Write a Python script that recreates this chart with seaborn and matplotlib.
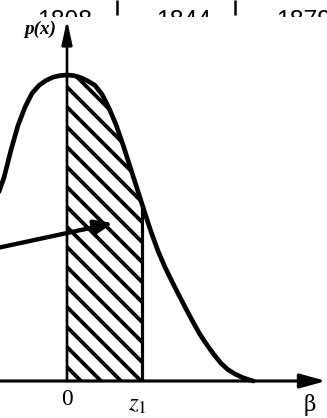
import numpy as np
import matplotlib
matplotlib.use("Agg")
import matplotlib.pyplot as plt
from matplotlib.patches import Rectangle
import seaborn as sns

# ---- data (x in sigma-like units, y relative to peak) ----
curve_x = [-1.30, -1.20, -1.10, -1.00, -0.90, -0.80, -0.70, -0.60, -0.50, -0.40,
           -0.30, -0.20, -0.10, 0.00, 0.10, 0.20, 0.30, 0.40, 0.50, 0.60,
           0.70, 0.80, 0.90, 1.00, 1.10, 1.20, 1.30, 1.40, 1.50, 1.60,
           1.70, 1.80, 1.90, 2.00, 2.10, 2.20, 2.30, 2.40, 2.50, 2.60, 2.66]
curve_y = [0.400, 0.460, 0.530, 0.600, 0.665, 0.755, 0.835, 0.895, 0.940, 0.966,
           0.982, 0.993, 0.998, 1.000, 0.998, 0.991, 0.980, 0.966, 0.937, 0.892,
           0.838, 0.772, 0.701, 0.630, 0.558, 0.488, 0.425, 0.372, 0.325, 0.280,
           0.236, 0.193, 0.152, 0.118, 0.086, 0.058, 0.037, 0.023, 0.012, 0.004,
           0.000]
z1 = 1.07
tick_positions = [0.0, z1]
tick_labels = ["0", "$z_1$"]
axis_label_x = "β"
axis_label_y = "p(x)"
header_years = ["1808", "1844", "1879"]

sns.set_theme(style="white")
plt.rcParams["font.family"] = ["DejaVu Sans"]
plt.rcParams["mathtext.fontset"] = "stix"
plt.rcParams["hatch.color"] = "black"
plt.rcParams["hatch.linewidth"] = 2.3

W, H, DPI = 327, 418, 120
fig = plt.figure(figsize=(W / DPI, H / DPI), dpi=DPI)
fig.patch.set_facecolor("white")
ax = fig.add_axes([0, 0, 1, 1])

x = np.array(curve_x)
y = np.array(curve_y)

# hatched area between 0 and z1
poly = ax.fill_between(x, 0, y, facecolor="white", edgecolor="black",
                       linewidth=0, hatch="\\\\", zorder=1)
clip = Rectangle((0, 0), z1, 2, transform=ax.transData)
poly.set_clip_path(clip)

# curve
sns.lineplot(x=x, y=y, ax=ax, color="black", linewidth=2.8, zorder=3,
             legend=False)
ax.set_axis_off()
# pixel mapping: x0 = 67 px, unit = 70 px ; baseline y = 381 px, peak = 306 px
ax.set_xlim((0 - 67) / 70, (W - 67) / 70)
ax.set_ylim((381 - H) / 306, 381 / 306)

# z1 boundary
yz = float(np.interp(z1, x, y))
ax.plot([z1, z1], [0, yz], color="black", lw=1.9, zorder=2,
        solid_capstyle="butt")

# axes arrows
ax.annotate("", xy=(3.70, 0), xytext=(-1.05, 0),
            arrowprops=dict(arrowstyle="-|>,head_length=0.65,head_width=0.18",
                            lw=1.9, color="black", mutation_scale=20,
                            shrinkA=0, shrinkB=0), zorder=4)
ax.annotate("", xy=(0, 1.18), xytext=(0, 0),
            arrowprops=dict(arrowstyle="-|>,head_length=0.6,head_width=0.13",
                            lw=1.6, color="black", mutation_scale=20,
                            shrinkA=0, shrinkB=0), zorder=4)

# pointer arrow
ax.annotate("", xy=(0.66, 0.516), xytext=(-1.03, 0.433),
            arrowprops=dict(arrowstyle="-|>,head_length=0.45,head_width=0.18",
                            lw=2.6, color="black", mutation_scale=20,
                            shrinkA=0, shrinkB=0), zorder=5)

# labels
ax.text(tick_positions[0], -0.062, tick_labels[0], ha="center", va="center",
        fontsize=14, family="Liberation Serif", color="black")
ax.text(tick_positions[1] - 0.07, -0.076, tick_labels[1], ha="center",
        va="center", fontsize=15, color="black")
ax.text(3.47, -0.078, axis_label_x, ha="center", va="center", fontsize=13,
        family="DejaVu Serif", color="black")
ax.text(-0.386, 1.148, axis_label_y, ha="center", va="center", fontsize=11.5,
        family="Liberation Serif", fontweight="bold", fontstyle="italic",
        color="black")

# partially hidden header row at the very top
hdr = fig.add_axes([0, 1 - 16.5 / H, 1, 16.5 / H])
hdr.set_axis_off()
hdr.set_xlim(0, W)
hdr.set_ylim(16.5, 0)
for xc, t in zip([65, 184, 304], header_years):
    hdr.text(xc, 28, t, ha="center", va="baseline", fontsize=14.8,
             family="Liberation Sans", color="black", clip_on=True)
hdr.vlines([117, 235], 0, 15, color="black", lw=1.5)

fig.savefig("out.png", dpi=DPI, facecolor="white")
